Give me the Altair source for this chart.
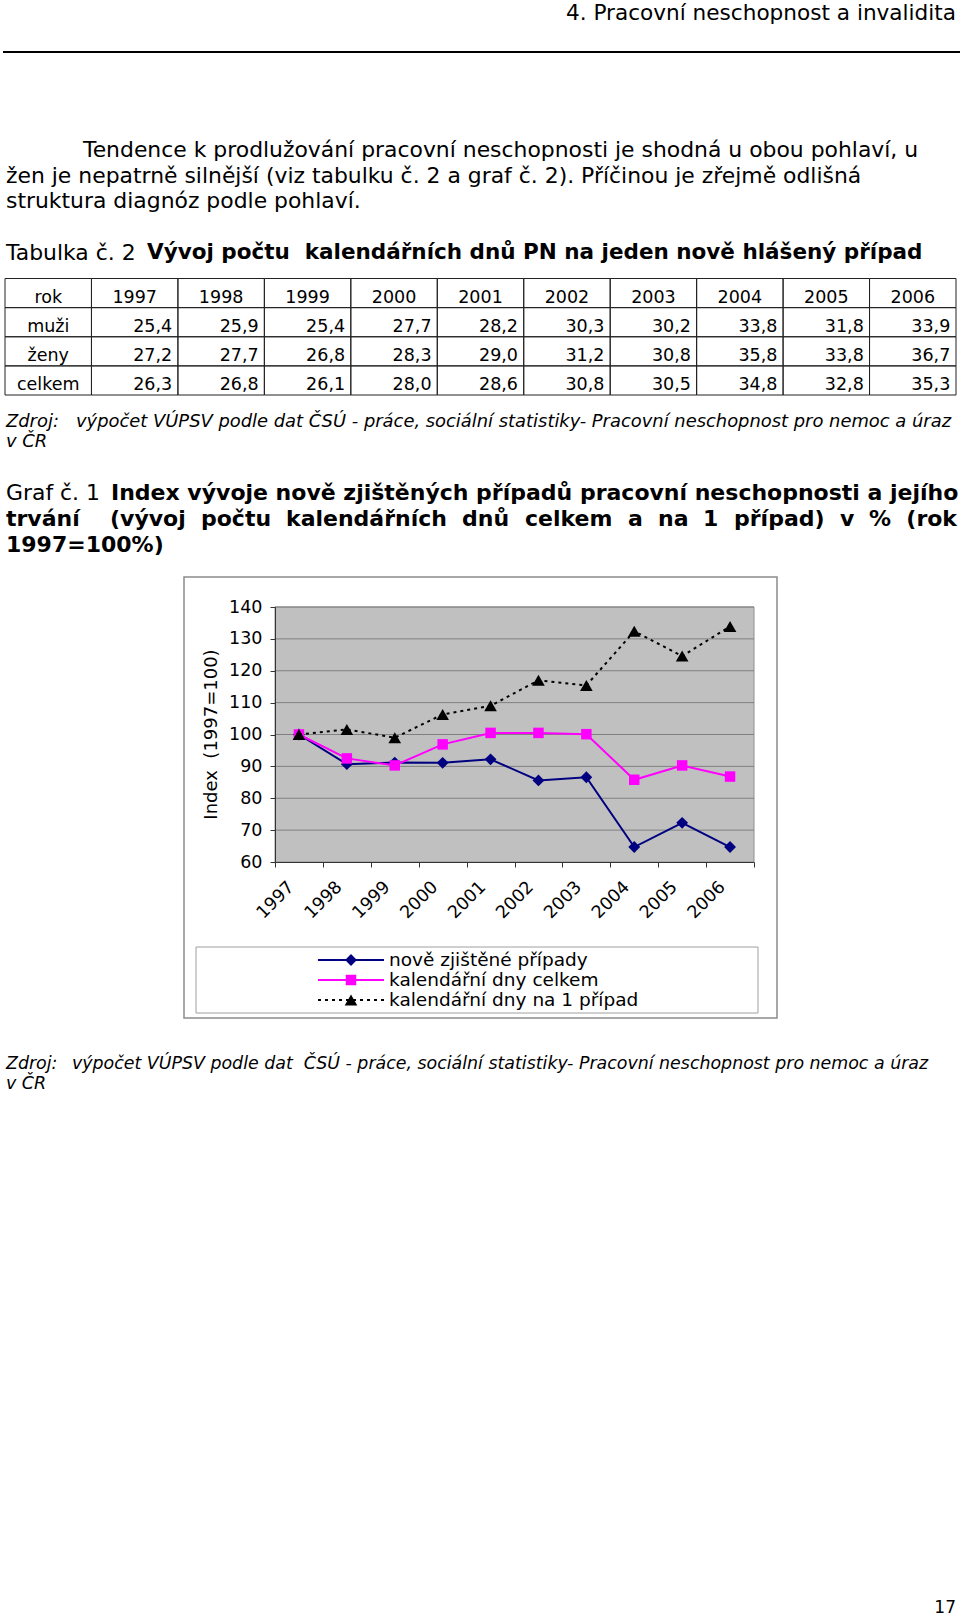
import altair as alt
import pandas as pd

# ---------------- data ----------------
years = ["1997", "1998", "1999", "2000", "2001", "2002", "2003", "2004", "2005", "2006"]

# Table 2: calendar days of sick leave per newly reported case
table_rows = ["muži", "ženy", "celkem"]
muzi = [25.4, 25.9, 25.4, 27.7, 28.2, 30.3, 30.2, 33.8, 31.8, 33.9]
zeny = [27.2, 27.7, 26.8, 28.3, 29.0, 31.2, 30.8, 35.8, 33.8, 36.7]
celkem = [26.3, 26.8, 26.1, 28.0, 28.6, 30.8, 30.5, 34.8, 32.8, 35.3]

# Graph 1: index 1997 = 100
series_names = ["nově zjištěné případy", "kalendářní dny celkem", "kalendářní dny na 1 případ"]
nove_pripady = [100.0, 90.7, 91.2, 91.1, 92.2, 85.6, 86.6, 64.7, 72.3, 64.7]
dny_celkem = [100.0, 92.5, 90.3, 96.9, 100.5, 100.5, 100.1, 85.8, 90.3, 86.8]
dny_na_pripad = [100.0, 101.6, 99.0, 106.3, 109.0, 117.0, 115.4, 132.4, 124.6, 133.9]
y_ticks = [60, 70, 80, 90, 100, 110, 120, 130, 140]

# ---------------- layout ----------------
W, H = 960, 1621
FONT = "DejaVu Sans"
PL, PR, PT, PB = 275, 754, 607, 862          # plot area
CHART_FONT = 17.5
BODY = 21.9
NB = "\u00a0"

xscale = alt.Scale(domain=years, range=[PL, PR], paddingInner=0, paddingOuter=0)
yscale = alt.Scale(domain=[60, 140], range=[PB, PT], nice=False, zero=False)

one = alt.Data(values=[{"a": 1}])


def text(t, x, y, size=BODY, weight="normal", style="normal", align="left", angle=0, color="black"):
    kw = dict(text=t, font=FONT, fontSize=size, fontWeight=weight, fontStyle=style,
              align=align, baseline="middle", color=color)
    if angle:
        kw["angle"] = angle
    return alt.Chart(one).mark_text(**kw).encode(x=alt.value(x), y=alt.value(y))


def box(x1, y1, x2, y2, fill=None, stroke=None, sw=1):
    kw = {}
    if fill is not None:
        kw["fill"] = fill
    else:
        kw["fillOpacity"] = 0
    if stroke is not None:
        kw["stroke"] = stroke
        kw["strokeWidth"] = sw
    return alt.Chart(one).mark_rect(**kw).encode(
        x=alt.value(x1), x2=alt.value(x2), y=alt.value(y1), y2=alt.value(y2))


layers = []

# ---------- page header ----------
layers.append(text("4. Pracovní neschopnost a invalidita", 956, 14, size=21.6, align="right"))
layers.append(alt.Chart(one).mark_rule(color="black", strokeWidth=2).encode(
    x=alt.value(3), x2=alt.value(960), y=alt.value(52)))

# ---------- paragraph ----------
layers.append(text("Tendence k prodlužování pracovní neschopnosti je shodná u obou pohlaví, u", 83, 149.5))
layers.append(text("žen je nepatrně silnější (viz tabulku č. 2 a graf č. 2). Příčinou je zřejmě odlišná", 6, 175.5))
layers.append(text("struktura diagnóz podle pohlaví.", 6, 201))

layers.append(text("Tabulka č. 2", 6, 253))
layers.append(text("Vývoj počtu" + NB + NB + "kalendářních dnů PN na jeden nově hlášený případ", 147, 253,
                   size=21.5, weight="bold"))

# ---------- table ----------
cols = ["rok"] + years
cells = []
for c in cols:
    for r in ["rok"] + table_rows:
        cells.append({"col": c, "row": r})
cells_df = pd.DataFrame(cells)

tx = alt.Scale(domain=cols, range=[5, 956], paddingInner=0, paddingOuter=0)
ty = alt.Scale(domain=["rok"] + table_rows, range=[278.5, 395], paddingInner=0, paddingOuter=0)

layers.append(alt.Chart(cells_df).mark_rect(filled=False, color="#222222", strokeWidth=1).encode(
    x=alt.X("col:N", scale=tx, axis=None, sort=cols),
    y=alt.Y("row:N", scale=ty, axis=None, sort=["rok"] + table_rows)))

center_items = [{"col": c, "row": "rok", "t": c} for c in cols] + \
               [{"col": "rok", "row": r, "t": r} for r in table_rows]
value_items = []
for r, vals in zip(table_rows, [muzi, zeny, celkem]):
    for yv, v in zip(years, vals):
        value_items.append({"col": yv, "row": r, "t": f"{v:.1f}".replace(".", ",")})

layers.append(alt.Chart(pd.DataFrame(center_items)).mark_text(
    font=FONT, fontSize=17.5, align="center", baseline="alphabetic", dy=10, color="black").encode(
    x=alt.X("col:N", scale=tx, axis=None, sort=cols),
    y=alt.Y("row:N", scale=ty, axis=None, sort=["rok"] + table_rows),
    text="t:N"))
layers.append(alt.Chart(pd.DataFrame(value_items)).mark_text(
    font=FONT, fontSize=17.5, align="right", baseline="alphabetic", dy=10, dx=37.5, color="black").encode(
    x=alt.X("col:N", scale=tx, axis=None, sort=cols),
    y=alt.Y("row:N", scale=ty, axis=None, sort=["rok"] + table_rows),
    text="t:N"))

# ---------- source 1 ----------
layers.append(text("Zdroj:", 6, 421.5, size=17.9, style="italic"))
layers.append(text("výpočet VÚPSV podle dat ČSÚ - práce, sociální statistiky- Pracovní neschopnost pro nemoc a úraz",
                   76, 421.5, size=17.9, style="italic"))
layers.append(text("v ČR", 6, 442, size=17.9, style="italic"))

# ---------- graph title ----------
layers.append(text("Graf č. 1", 6, 493))
layers.append(text("Index vývoje nově zjištěných případů pracovní neschopnosti a jejího", 111, 493,
                   size=22, weight="bold"))
# justified second line: word starts across the text width
line2_words = ["trvání", "(vývoj", "počtu", "kalendářních", "dnů", "celkem", "a", "na", "1",
               "případ)", "v", "%", "(rok"]
line2_x = [6, 110, 201, 286, 462, 525, 628, 658, 703, 734, 840, 869, 957]
for k, (wd, wx) in enumerate(zip(line2_words, line2_x)):
    last = k == len(line2_words) - 1
    layers.append(text(wd, wx, 519, size=22, weight="bold", align="right" if last else "left"))
layers.append(text("1997=100%)", 6, 545, size=22, weight="bold"))

# ---------- chart ----------
layers.append(box(184, 577, 777, 1018, fill="white", stroke="#8c8c8c", sw=1.5))
layers.append(box(PL, PT, PR, PB, fill="#C0C0C0", stroke="#909090", sw=1))

grid_df = pd.DataFrame({"v": y_ticks[1:]})
layers.append(alt.Chart(grid_df).mark_rule(color="#808080", strokeWidth=1).encode(
    y=alt.Y("v:Q", scale=yscale, axis=None), x=alt.value(PL), x2=alt.value(PR)))

xaxis = alt.Axis(orient="bottom", offset=PB - H, tickBand="extent", tickSize=5, labelAngle=-45,
                 labelAlign="right", labelBaseline="middle", labelPadding=17, labelOffset=-8,
                 labelFont=FONT, labelFontSize=CHART_FONT, labelColor="black",
                 domainColor="#333333", tickColor="#333333", title=None, grid=False, zindex=1)
yaxis = alt.Axis(orient="left", offset=-PL, values=y_ticks, tickSize=5, labelPadding=8,
                 labelFont=FONT, labelFontSize=CHART_FONT, labelColor="black",
                 domainColor="#333333", tickColor="#333333", title=None, grid=False, zindex=1)

styles = [
    dict(vals=nove_pripady, color="#000080", shape="diamond", size=140, dash=None),
    dict(vals=dny_celkem, color="#FF00FF", shape="square", size=110, dash=None),
    dict(vals=dny_na_pripad, color="#000000", shape="triangle-up", size=160, dash=[3, 4]),
]

for i, st in enumerate(styles):
    df = pd.DataFrame({"year": years, "value": st["vals"]})
    xe = alt.X("year:N", scale=xscale, sort=years, axis=xaxis if i == 0 else None)
    ye = alt.Y("value:Q", scale=yscale, axis=yaxis if i == 0 else None)
    lkw = dict(color=st["color"], strokeWidth=2)
    if st["dash"]:
        lkw["strokeDash"] = st["dash"]
    layers.append(alt.Chart(df).mark_line(**lkw).encode(x=xe, y=ye))
    layers.append(alt.Chart(df).mark_point(shape=st["shape"], filled=True, size=st["size"],
                                           color=st["color"], opacity=1).encode(
        x=alt.X("year:N", scale=xscale, sort=years, axis=None),
        y=alt.Y("value:Q", scale=yscale, axis=None)))

layers.append(text("Index" + NB + NB + "(1997=100)", 212, 734.5, size=18, align="center", angle=270))

# legend
layers.append(box(196, 947, 758, 1013, fill="white", stroke="#a0a0a0", sw=1))
for st, name, ly in zip(styles, series_names, [960, 980, 1000]):
    rkw = dict(color=st["color"], strokeWidth=2)
    if st["dash"]:
        rkw["strokeDash"] = st["dash"]
    layers.append(alt.Chart(one).mark_rule(**rkw).encode(
        x=alt.value(318), x2=alt.value(384), y=alt.value(ly)))
    layers.append(alt.Chart(one).mark_point(shape=st["shape"], filled=True, size=st["size"],
                                            color=st["color"], opacity=1).encode(
        x=alt.value(351), y=alt.value(ly)))
    layers.append(text(name, 389, ly, size=18.5))

# ---------- source 2 ----------
layers.append(text("Zdroj:", 6, 1063.5, size=17.4, style="italic"))
layers.append(text("výpočet VÚPSV podle dat" + NB + NB + "ČSÚ - práce, sociální statistiky- Pracovní neschopnost pro nemoc a úraz",
                   72, 1063.5, size=17.4, style="italic"))
layers.append(text("v ČR", 6, 1084, size=17.4, style="italic"))

# page number
layers.append(text("17", 956, 1608, size=17, align="right"))

chart = alt.layer(*layers).resolve_scale(x="independent", y="independent").properties(
    width=W, height=H, padding=0, background="white",
    autosize=alt.AutoSizeParams(type="none")
).configure_view(stroke=None)

chart.save("out.html", embed_options={"renderer": "svg", "actions": False})
